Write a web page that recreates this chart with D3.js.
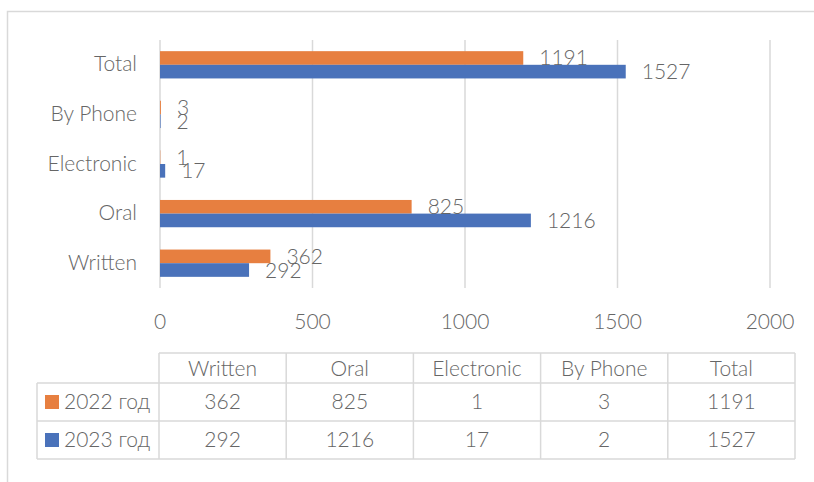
<!DOCTYPE html>
<html>
<head>
<meta charset="utf-8">
<script src="https://cdn.jsdelivr.net/npm/d3@7"></script>
<style>
  body { margin: 0; background: #fff; }
  svg text { font-family: Lato, "Open Sans", sans-serif; font-weight: 300; fill: #666; }
</style>
</head>
<body>
<svg id="chart" width="814" height="482"></svg>
<script>
// chart data
const categories = ['Written', 'Oral', 'Electronic', 'By Phone', 'Total'];
const seriesNames = ['2022 год', '2023 год'];
const values2022 = [362, 825, 1, 3, 1191];
const values2023 = [292, 1216, 17, 2, 1527];
const xTicks = [0, 500, 1000, 1500, 2000];

const colors = ['#E77F40', '#4A72BA'];
const fontSize = 21;
const lift = -2; // text baseline nudge

const svg = d3.select('#chart');

// outer chart border (runs off the right and bottom edges)
svg.append('rect')
    .attr('x', 7.5).attr('y', 11.5)
    .attr('width', 900).attr('height', 600)
    .attr('fill', 'none')
    .attr('stroke', '#d9d9d9')
    .attr('stroke-width', 1.5);

const plot = {left: 160, right: 770, top: 40, bottom: 288};

const x = d3.scaleLinear()
    .domain([0, 2000])
    .range([plot.left, plot.right]);

const y = d3.scaleBand()
    .domain(categories.slice().reverse())
    .range([plot.top, plot.bottom])
    .paddingInner(0.45)
    .paddingOuter(0.225);

const ySeries = d3.scaleBand()
    .domain(seriesNames)
    .range([0, y.bandwidth()]);

// gridlines
svg.append('g')
  .selectAll('line')
  .data(xTicks)
  .join('line')
    .attr('x1', d => x(d)).attr('x2', d => x(d))
    .attr('y1', plot.top).attr('y2', plot.bottom)
    .attr('stroke', '#d9d9d9')
    .attr('stroke-width', 1.5);

// x tick labels
svg.append('g')
  .selectAll('text')
  .data(xTicks)
  .join('text')
    .attr('x', d => x(d))
    .attr('y', 322 + lift)
    .attr('text-anchor', 'middle')
    .attr('dominant-baseline', 'central')
    .style('font-size', fontSize + 'px')
    .text(d => d);

// category labels
svg.append('g')
  .selectAll('text')
  .data(categories)
  .join('text')
    .attr('x', plot.left - 23)
    .attr('y', d => y(d) + y.bandwidth() / 2 + lift)
    .attr('text-anchor', 'end')
    .attr('dominant-baseline', 'central')
    .style('font-size', fontSize + 'px')
    .text(d => d);

const series = [values2022, values2023].map(function(vals, si) {
  return categories.map(function(c, i) {
    return {cat: c, name: seriesNames[si], value: vals[i], color: colors[si]};
  });
});

const bars = svg.append('g');
series.forEach(function(s) {
  bars.append('g')
    .selectAll('rect')
    .data(s)
    .join('rect')
      .attr('x', x(0))
      .attr('y', d => y(d.cat) + ySeries(d.name))
      .attr('width', d => x(d.value) - x(0))
      .attr('height', ySeries.bandwidth())
      .attr('fill', d => d.color);
});

// value labels
series.forEach(function(s) {
  svg.append('g')
    .selectAll('text')
    .data(s)
    .join('text')
      .attr('x', d => x(d.value) + 16)
      .attr('y', d => y(d.cat) + ySeries(d.name) + ySeries.bandwidth() / 2 + 1 + lift)
      .attr('dominant-baseline', 'central')
      .style('font-size', fontSize + 'px')
      .text(d => d.value);
});

// data table
const table = {left: 37, colLeft: 159, right: 795, top: 353, headH: 30, rowH: 38};
const colX = d3.scaleBand()
    .domain(categories)
    .range([table.colLeft, table.right]);

const tg = svg.append('g')
    .attr('stroke', '#d9d9d9')
    .attr('stroke-width', 1.5);

const rowTop = table.top + table.headH;
const tableBottom = rowTop + table.rowH * seriesNames.length;

// horizontal lines
tg.append('line')
    .attr('x1', table.colLeft).attr('x2', table.right)
    .attr('y1', table.top).attr('y2', table.top);
d3.range(seriesNames.length + 1).forEach(function(i) {
  tg.append('line')
      .attr('x1', table.left).attr('x2', table.right)
      .attr('y1', rowTop + i * table.rowH).attr('y2', rowTop + i * table.rowH);
});
// vertical lines
tg.append('line')
    .attr('x1', table.left).attr('x2', table.left)
    .attr('y1', rowTop).attr('y2', tableBottom);
categories.forEach(function(c) {
  tg.append('line')
      .attr('x1', colX(c)).attr('x2', colX(c))
      .attr('y1', table.top).attr('y2', tableBottom);
});
tg.append('line')
    .attr('x1', table.right).attr('x2', table.right)
    .attr('y1', table.top).attr('y2', tableBottom);

// header
svg.append('g')
  .selectAll('text')
  .data(categories)
  .join('text')
    .attr('x', d => colX(d) + colX.bandwidth() / 2)
    .attr('y', table.top + table.headH / 2 + 1 + lift)
    .attr('text-anchor', 'middle')
    .attr('dominant-baseline', 'central')
    .style('font-size', fontSize + 'px')
    .text(d => d);

// rows
series.forEach(function(s, si) {
  const cy = rowTop + si * table.rowH + table.rowH / 2;
  const row = svg.append('g');
  row.append('rect')
      .attr('x', 45).attr('y', cy - 7)
      .attr('width', 14).attr('height', 14)
      .attr('fill', colors[si]);
  row.append('text')
      .attr('x', 64).attr('y', cy + lift)
      .attr('dominant-baseline', 'central')
      .style('font-size', fontSize + 'px')
      .text(seriesNames[si]);
  row.selectAll('text.val')
    .data(s)
    .join('text')
      .attr('class', 'val')
      .attr('x', d => colX(d.cat) + colX.bandwidth() / 2)
      .attr('y', cy + lift)
      .attr('text-anchor', 'middle')
      .attr('dominant-baseline', 'central')
      .style('font-size', fontSize + 'px')
      .text(d => d.value);
});
</script>
</body>
</html>
